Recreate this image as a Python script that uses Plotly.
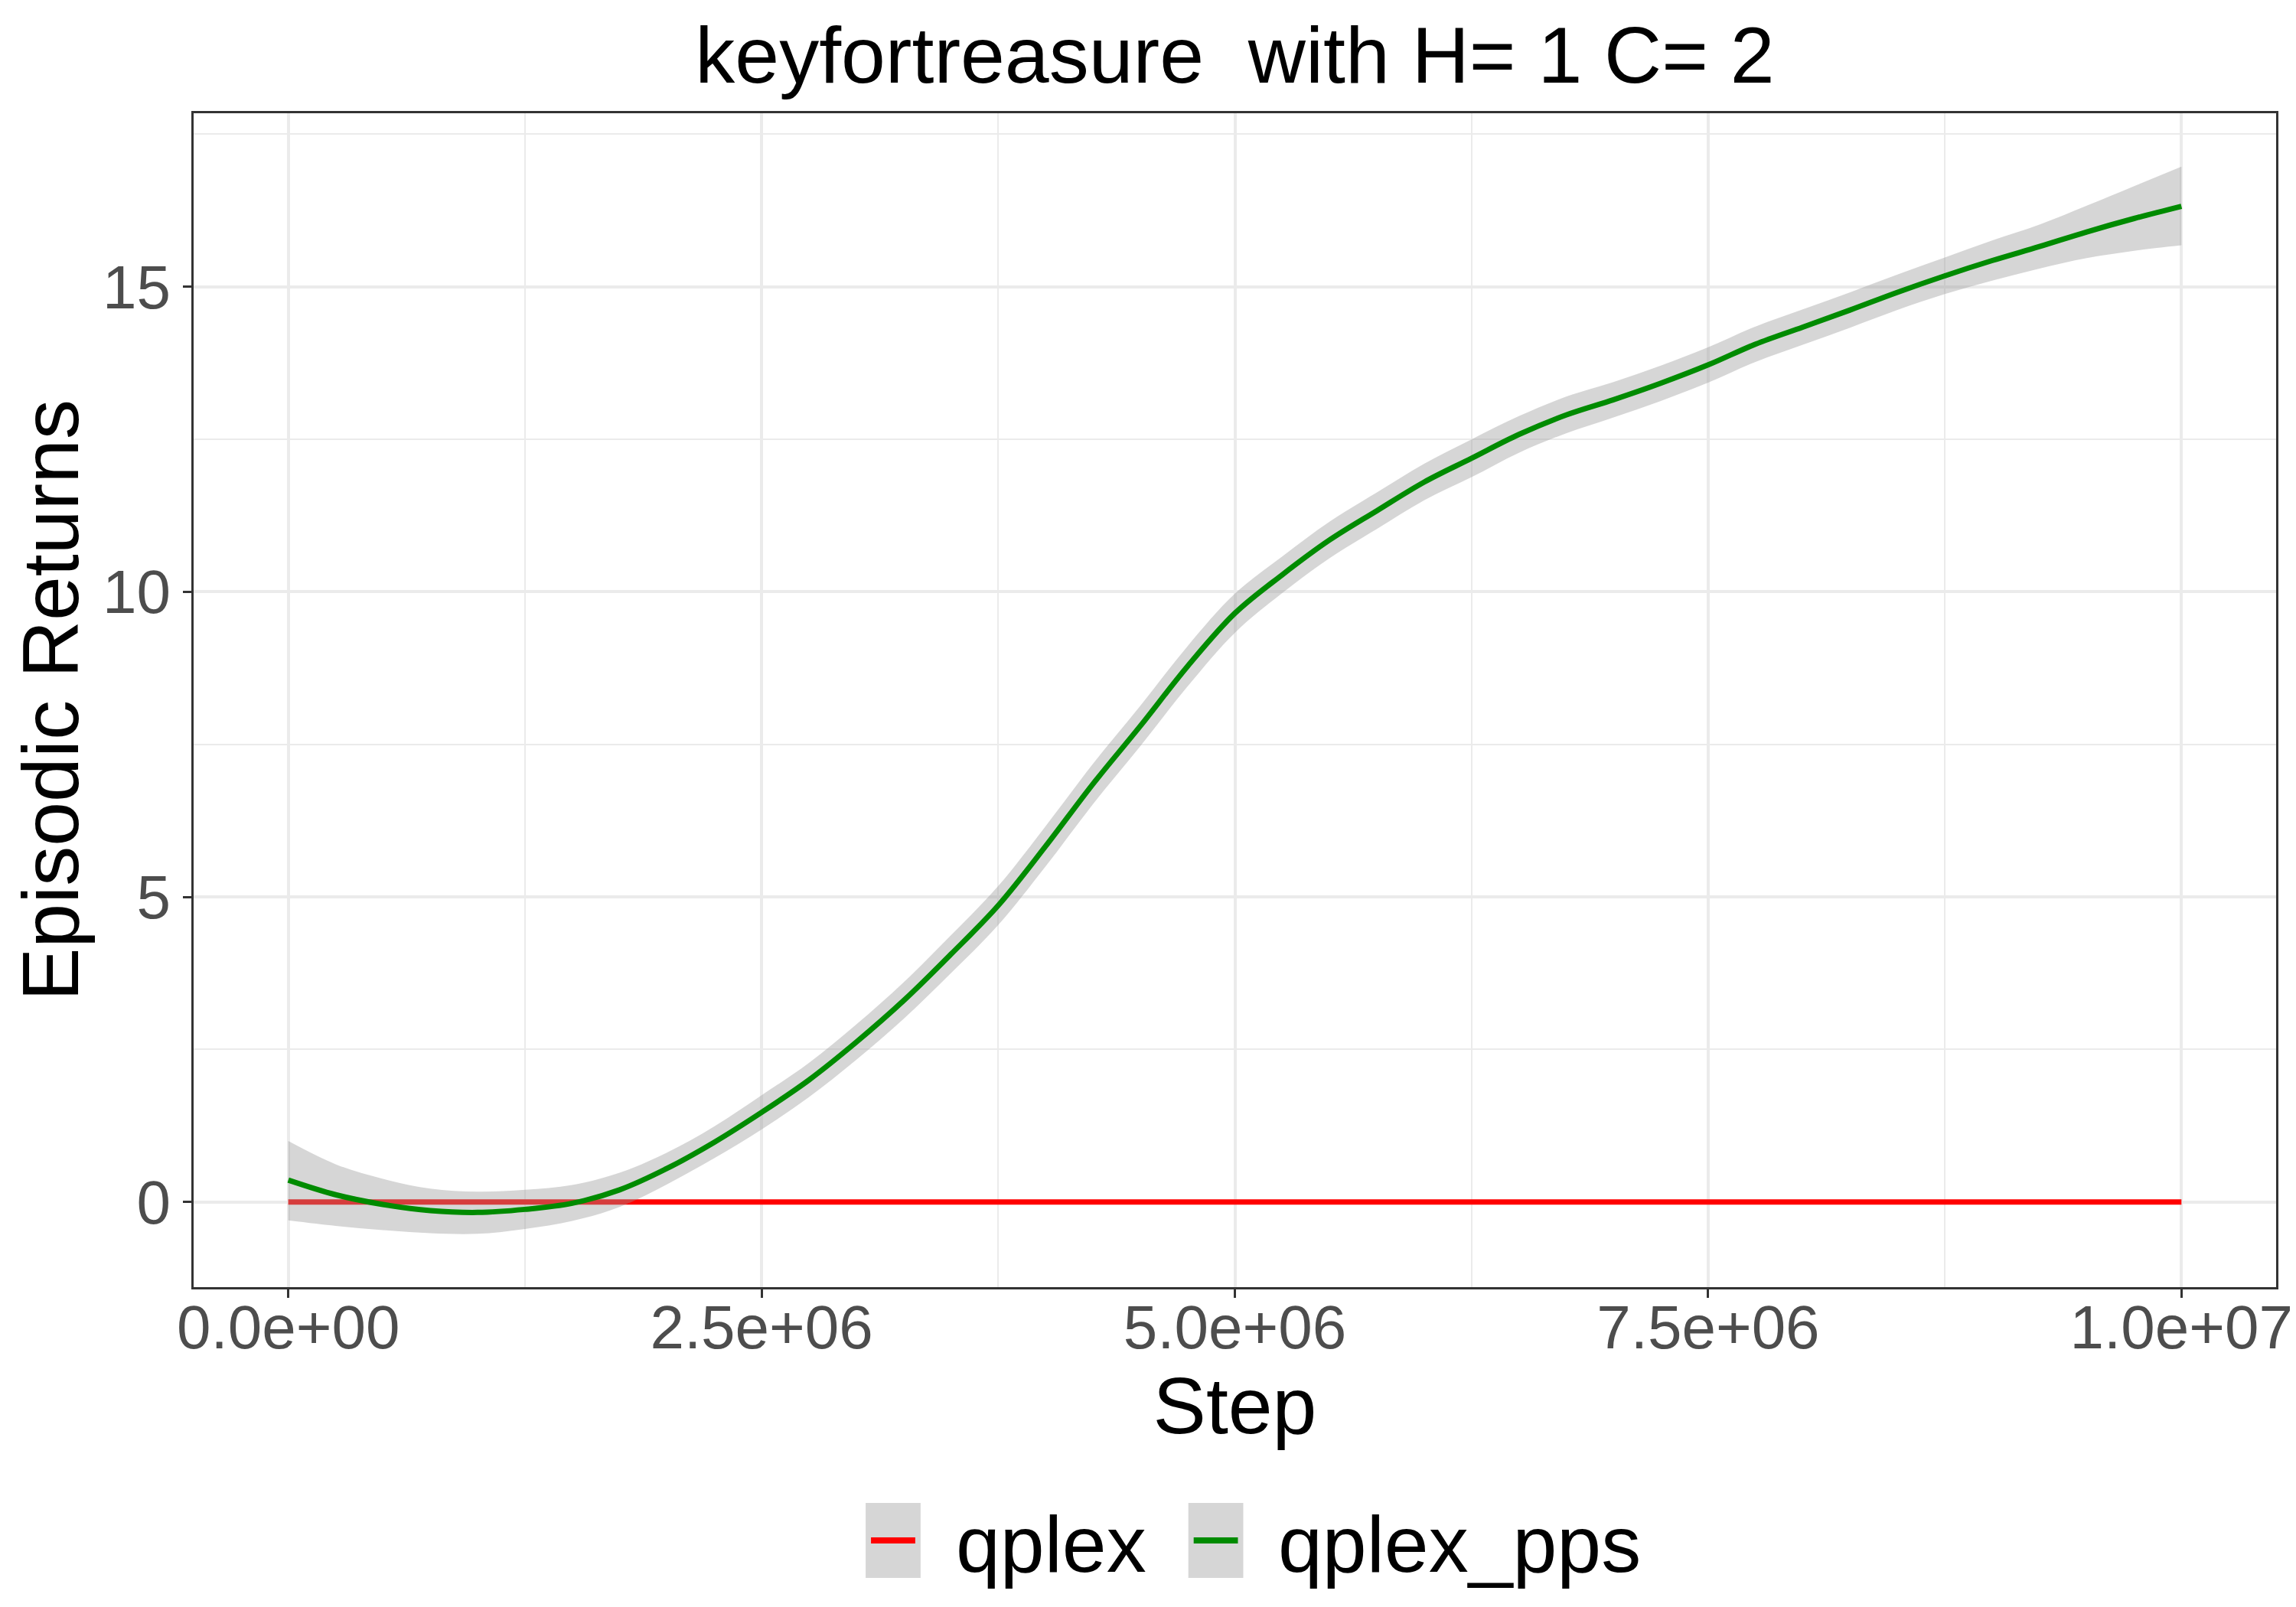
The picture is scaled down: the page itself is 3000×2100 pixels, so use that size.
import plotly.graph_objects as go

# pasos de entrenamiento (en millones)
pasos_m = [0.0, 0.25, 0.5, 0.75, 1.0, 1.25, 1.5, 1.75, 2.0, 2.25, 2.5, 2.75, 3.0, 3.25,
           3.5, 3.75, 4.0, 4.25, 4.5, 4.75, 5.0, 5.25, 5.5, 5.75, 6.0, 6.25, 6.5, 6.75,
           7.0, 7.25, 7.5, 7.75, 8.0, 8.25, 8.5, 8.75, 9.0, 9.25, 9.5, 9.75, 10.0]

# qplex: curva suavizada plana en cero
qplex = [0.0, 0.0, 0.0, 0.0, 0.0, 0.0, 0.0, 0.0, 0.0, 0.0, 0.0, 0.0, 0.0, 0.0,
         0.0, 0.0, 0.0, 0.0, 0.0, 0.0, 0.0, 0.0, 0.0, 0.0, 0.0, 0.0, 0.0, 0.0,
         0.0, 0.0, 0.0, 0.0, 0.0, 0.0, 0.0, 0.0, 0.0, 0.0, 0.0, 0.0, 0.0]

# qplex_pps: curva suavizada y banda de confianza
qplex_pps = [0.36, 0.12, -0.04, -0.14, -0.17, -0.12, -0.02, 0.20, 0.55, 0.98, 1.47, 2.00, 2.62, 3.30,
             4.06, 4.86, 5.83, 6.85, 7.80, 8.78, 9.65, 10.28, 10.85, 11.33, 11.80, 12.19, 12.58, 12.90,
             13.15, 13.42, 13.72, 14.06, 14.34, 14.62, 14.91, 15.18, 15.43, 15.66, 15.90, 16.12, 16.32]
pps_inf = [-0.30, -0.39, -0.46, -0.51, -0.52, -0.44, -0.31, -0.08, 0.29, 0.72, 1.19, 1.72, 2.33, 3.00,
           3.75, 4.54, 5.50, 6.52, 7.47, 8.45, 9.33, 9.98, 10.55, 11.03, 11.50, 11.88, 12.28, 12.60,
           12.86, 13.13, 13.43, 13.77, 14.05, 14.33, 14.62, 14.88, 15.10, 15.30, 15.47, 15.59, 15.68]
pps_sup = [1.00, 0.62, 0.38, 0.22, 0.17, 0.20, 0.28, 0.48, 0.81, 1.24, 1.75, 2.28, 2.91, 3.60,
           4.37, 5.18, 6.16, 7.18, 8.13, 9.11, 9.97, 10.58, 11.15, 11.63, 12.10, 12.50, 12.88, 13.20,
           13.44, 13.71, 14.01, 14.35, 14.63, 14.91, 15.20, 15.48, 15.76, 16.02, 16.33, 16.65, 16.97]

series = ["qplex", "qplex_pps"]
colores = ["#FF0000", "#008B00"]

ticks_x = [0, 2.5e6, 5.0e6, 7.5e6, 1.0e7]
etiquetas_x = ["0.0e+00", "2.5e+06", "5.0e+06", "7.5e+06", "1.0e+07"]
ticks_y = [0, 5, 10, 15]

pasos = [p * 1e6 for p in pasos_m]

# rangos con la expansion del 5% de ggplot
x_min, x_max = min(pasos), max(pasos)
y_min, y_max = min(pps_inf + qplex), max(pps_sup + qplex)
dx = (x_max - x_min) * 0.05
dy = (y_max - y_min) * 0.05

W, H = 3000, 2100
M_L, M_R, M_T, M_B = 245, 25, 140, 426
FUENTE = "Liberation Sans, Arial, sans-serif"
RELLENO = "rgba(153,153,153,0.4)"


def px_x(p):
    return (p - M_L) / (W - M_L - M_R)


def px_y(p):
    return (H - M_B - p) / (H - M_T - M_B)


fig = go.Figure()

fig.add_trace(go.Scatter(x=pasos, y=qplex, mode="lines", name=series[0],
                         line=dict(color=colores[0], width=7)))
fig.add_trace(go.Scatter(x=pasos, y=pps_inf, mode="lines", line=dict(width=0, shape="spline"),
                         showlegend=False, hoverinfo="skip"))
fig.add_trace(go.Scatter(x=pasos, y=pps_sup, mode="lines", line=dict(width=0, shape="spline"),
                         fill="tonexty", fillcolor=RELLENO, showlegend=False, hoverinfo="skip"))
fig.add_trace(go.Scatter(x=pasos, y=qplex_pps, mode="lines", name=series[1],
                         line=dict(color=colores[1], width=7, shape="spline")))

eje = dict(showline=True, mirror=True, linecolor="#333333", linewidth=3,
           ticks="outside", ticklen=11, tickwidth=3, tickcolor="#333333",
           gridcolor="#EBEBEB", gridwidth=3.5, zeroline=False,
           tickfont=dict(family=FUENTE, size=80, color="#4D4D4D"))

fig.update_xaxes(eje, range=[x_min - dx, x_max + dx], tickmode="array",
                 tickvals=ticks_x, ticktext=etiquetas_x, ticklabelstandoff=-30,
                 minor=dict(tickmode="linear", tick0=0, dtick=1.25e6, showgrid=True,
                            gridcolor="#EBEBEB", gridwidth=2, ticks=""),
                 title=dict(text="Step", font=dict(family=FUENTE, size=104, color="black"),
                            standoff=4))
fig.update_yaxes(eje, range=[y_min - dy, y_max + dy], tickmode="array",
                 tickvals=ticks_y, ticktext=[str(v) for v in ticks_y],
                 minor=dict(tickmode="linear", tick0=0, dtick=2.5, showgrid=True,
                            gridcolor="#EBEBEB", gridwidth=2, ticks=""),
                 title=dict(text="Episodic Returns", font=dict(family=FUENTE, size=104, color="black"),
                            standoff=20))

# leyenda al estilo ggplot (caja gris con el trazo dentro)
formas = []
notas = []
leyenda_x = [1126, 1549]
for i, nombre in enumerate(series):
    x0 = leyenda_x[i]
    formas.append(dict(type="rect", xref="paper", yref="paper",
                       x0=px_x(x0), x1=px_x(x0 + 72), y0=px_y(1956), y1=px_y(2054),
                       fillcolor="#D6D6D6", line=dict(width=0)))
    formas.append(dict(type="line", xref="paper", yref="paper",
                       x0=px_x(x0 + 7), x1=px_x(x0 + 65), y0=px_y(2005), y1=px_y(2005),
                       line=dict(color=colores[i], width=8)))
    notas.append(dict(text=nombre, xref="paper", yref="paper", x=px_x(x0 + 116), y=px_y(2010),
                      xanchor="left", yanchor="middle", showarrow=False,
                      font=dict(family=FUENTE, size=104, color="black")))

fig.update_layout(
    width=W, height=H,
    margin=dict(l=M_L, r=M_R, t=M_T, b=M_B),
    paper_bgcolor="white", plot_bgcolor="white",
    showlegend=False,
    title=dict(text="keyfortreasure\u00a0 with H= 1 C= 2", x=0.5, xref="paper",
               y=1 - 64 / H, yref="container", yanchor="middle", xanchor="center",
               font=dict(family=FUENTE, size=104, color="black")),
    shapes=formas,
    annotations=notas,
)

fig.write_html("out.html")
